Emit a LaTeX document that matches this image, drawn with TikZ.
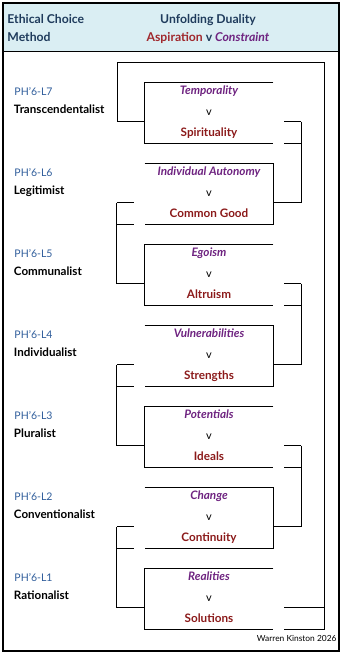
\documentclass[tikz,border=0pt]{standalone}
\usepackage{fontspec}
\setmainfont{Lato}
\usetikzlibrary{calc}
\definecolor{hdrbg}{HTML}{DAEEF3}
\definecolor{hdrtxt}{HTML}{1F3B5C}
\definecolor{aspir}{HTML}{A0282D}
\definecolor{purp}{HTML}{6E2380}
\definecolor{dred}{HTML}{8B1A1A}
\definecolor{phblue}{HTML}{2E5C9A}
\begin{document}
\begin{tikzpicture}[x=1pt,y=-1pt,line width=0.9pt,
  pairbox/.style={minimum width=128pt,minimum height=60pt,inner sep=0pt,draw=none},
  hdr/.style={font=\fontsize{12.2}{13}\selectfont\bfseries,text=hdrtxt,anchor=base,inner sep=0pt},
  toptxt/.style={font=\fontsize{11.7}{12}\selectfont\bfseries\itshape,text=purp,anchor=base,inner sep=0pt},
  vtxt/.style={font=\fontsize{11}{12}\selectfont,text=black,anchor=base,inner sep=0pt},
  bottxt/.style={font=\fontsize{11.7}{12}\selectfont\bfseries,text=dred,anchor=base,inner sep=0pt},
  phlbl/.style={font=\fontsize{10.5}{12}\selectfont,text=phblue,anchor=base west,inner sep=0pt},
  methlbl/.style={font=\fontsize{11.6}{12}\selectfont\bfseries,text=black,anchor=base west,inner sep=0pt}]
\useasboundingbox (0,0) rectangle (342,654);
\fill[hdrbg] (3,3) rectangle (339,51);
\draw[line width=1pt] (3,51) -- (339,51);
\draw[line width=2.6pt] (3,3) rectangle (339,651);
% header
\node[hdr,anchor=base west] (h1) at (7,23.3) {Ethical Choice};
\node[hdr,anchor=base west] (h2) at (7,41.7) {Method};
\node[hdr] (h3) at (208,23.3) {Unfolding Duality};
\node[hdr] (h4) at (208,41.7) {\textcolor{aspir}{Aspiration} v \textcolor{purp}{\itshape Constraint}};
% boxes
\foreach \n/\k/\ta/\tb/\meth in {7/0/Temporality/Spirituality/Transcendentalist,
  6/1/Individual Autonomy/Common Good/Legitimist,
  5/2/Egoism/Altruism/Communalist,
  4/3/Vulnerabilities/Strengths/Individualist,
  3/4/Potentials/Ideals/Pluralist,
  2/5/Change/Continuity/Conventionalist,
  1/6/Realities/Solutions/Rationalist}{
  \pgfmathsetmacro{\T}{82.5+81*\k}
  \node[pairbox] (b\n) at (209,\T+30) {};
  \node[toptxt] (ta\n) at (209,\T+11.5) {\ta};
  \node[vtxt] (tv\n) at (209,\T+32.5) {v};
  \node[bottxt] (tb\n) at (209,\T+53.5) {\tb};
  \node[phlbl] (p\n) at (14,\T+12.5) {PH'6-L\n};
  \node[methlbl] (m\n) at (13.5,\T+30.5) {\meth};
}
% box outlines: open right
\foreach \n in {7,5,3,1}{
  \draw (b\n.north east) -- (b\n.north west) -- (b\n.south west) -- (b\n.south east);
}
% box outlines: open left
\foreach \n in {6,4,2}{
  \draw (b\n.north west) -- (b\n.north east) -- (b\n.south east) -- (b\n.south west);
}
% right stubs
\foreach \n in {7,5,3}{
  \draw ($(b\n.east)+(11,9)$) -- ++(17,0);
  \draw ($(b\n.south east)+(11,0)$) -- ++(17,0);
}
% left stubs
\foreach \n in {6,4,2}{
  \draw ($(b\n.west)+(-11,9)$) -- ++(-17,0);
  \draw ($(b\n.south west)+(-11,0)$) -- ++(-17,0);
}
% connectors
\draw ($(b7.east)+(28,9)$) |- ($(b6.east)+(0,9)$);
\draw ($(b5.east)+(28,9)$) |- ($(b4.east)+(0,9)$);
\draw ($(b3.east)+(28,9)$) |- ($(b2.east)+(0,9)$);
\draw ($(b6.west)+(-28,9)$) |- ($(b5.west)+(0,9)$);
\draw ($(b4.west)+(-28,9)$) |- ($(b3.west)+(0,9)$);
\draw ($(b2.west)+(-28,9)$) |- ($(b1.west)+(0,9)$);
% outer loop
\coordinate (topL) at (117,62);
\coordinate (topR) at (324,62);
\draw ($(b1.east)+(11,9)$) -- ++(40,0);
\draw ($(b1.south east)+(11,0)$) -| (topR) -- (topL) |- ($(b7.west)+(0,9)$);
\node[font=\fontsize{8.4}{9}\selectfont,anchor=base east,inner sep=0pt] (wk) at (337,641) {Warren Kinston 2026};
\end{tikzpicture}
\end{document}
